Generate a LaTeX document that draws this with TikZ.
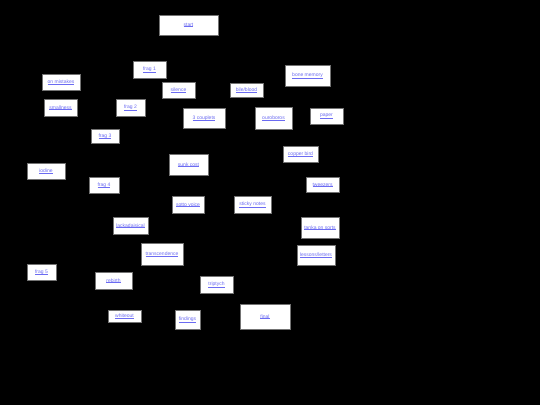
\documentclass[tikz,border=0pt]{standalone}
\usepackage{fontspec}
\setmainfont{Liberation Sans}
\usepackage{tikz}
\definecolor{linkblue}{rgb}{0.42,0.42,0.95}
\tikzset{page/.style={draw=black!55, fill=white, line width=0.5pt, inner sep=0pt, text=linkblue, font=\fontsize{5}{6}\selectfont}}
\newcommand{\lnk}[1]{\leavevmode\vtop{\hbox{#1}\kern-0.2pt\hrule height 0.35pt}}

\begin{document}
\begin{tikzpicture}[x=1pt, y=-1pt]
		\fill[black](0,0) rectangle (540,405);
		\useasboundingbox (0,0) rectangle (540,405);
		\node(start)[page, minimum width=59pt, minimum height=20pt] at (188.5,25){\lnk{start}};
		\node(frag1)[page, minimum width=33pt, minimum height=17pt] at (149.5,69.5){\lnk{frag 1}};
		\node(mistakes)[page, minimum width=38pt, minimum height=16pt] at (61,82){\lnk{on mistakes}};
		\node(silence)[page, minimum width=33pt, minimum height=16pt] at (178.5,90){\lnk{silence}};
		\node(bile)[page, minimum width=33pt, minimum height=14pt] at (246.5,90){\lnk{bile/blood}};
		\node(small)[page, minimum width=33pt, minimum height=17pt] at (60.5,107.5){\lnk{smallness}};
		\node(frag2)[page, minimum width=29pt, minimum height=17pt] at (130.5,107.5){\lnk{frag 2}};
		\node(couplets)[page, minimum width=42pt, minimum height=20pt] at (204,118){\lnk{3 couplets}};
		\node(frag3)[page, minimum width=28pt, minimum height=14pt] at (105,136){\lnk{frag 3}};
		\node(bone)[page, minimum width=45pt, minimum height=21pt] at (307.5,75.5){\lnk{bone memory}};
		\node(ouro)[page, minimum width=37pt, minimum height=22pt] at (273.5,118){\lnk{ouroboros}};
		\node(paper)[page, minimum width=33pt, minimum height=16pt] at (326.5,116){\lnk{paper}};
		\node(copper)[page, minimum width=35pt, minimum height=16pt] at (300.5,154){\lnk{copper bird}};
		\node(tweezers)[page, minimum width=33pt, minimum height=15pt] at (322.5,184.5){\lnk{tweezers}};
		\node(iodine)[page, minimum width=38pt, minimum height=16pt] at (46,171){\lnk{iodine}};
		\node(sunk)[page, minimum width=39pt, minimum height=21pt] at (188.5,164.5){\lnk{sunk cost}};
		\node(frag4)[page, minimum width=30pt, minimum height=16pt] at (104,185){\lnk{frag 4}};
		\node(sotto)[page, minimum width=32pt, minimum height=17pt] at (188,204.5){\lnk{sotto voice}};
		\node(sticky)[page, minimum width=37pt, minimum height=17pt] at (252.5,204.5){\lnk{sticky notes}};
		\node(lacka)[page, minimum width=35pt, minimum height=17pt] at (130.5,225.5){\lnk{lackadaisical}};
		\node(tanka)[page, minimum width=38pt, minimum height=21pt] at (320,227.5){\lnk{tanka on sorts}};
		\node(trans)[page, minimum width=42pt, minimum height=22pt] at (162,254){\lnk{transcendence}};
		\node(lessons)[page, minimum width=38pt, minimum height=20pt] at (316,255){\lnk{lessons/letters}};
		\node(frag5)[page, minimum width=29pt, minimum height=16pt] at (41.5,272){\lnk{frag 5}};
		\node(rebirth)[page, minimum width=37pt, minimum height=17pt] at (113.5,280.5){\lnk{rebirth}};
		\node(triptych)[page, minimum width=33pt, minimum height=17pt] at (216.5,284.5){\lnk{triptych}};
		\node(whiteout)[page, minimum width=33pt, minimum height=12pt] at (124.5,316){\lnk{whiteout}};
		\node(findings)[page, minimum width=25pt, minimum height=19pt] at (187.5,319.5){\lnk{findings}};
		\node(final)[page, minimum width=50pt, minimum height=25pt] at (265,316.5){\lnk{final}};
	\end{tikzpicture}
\end{document}
